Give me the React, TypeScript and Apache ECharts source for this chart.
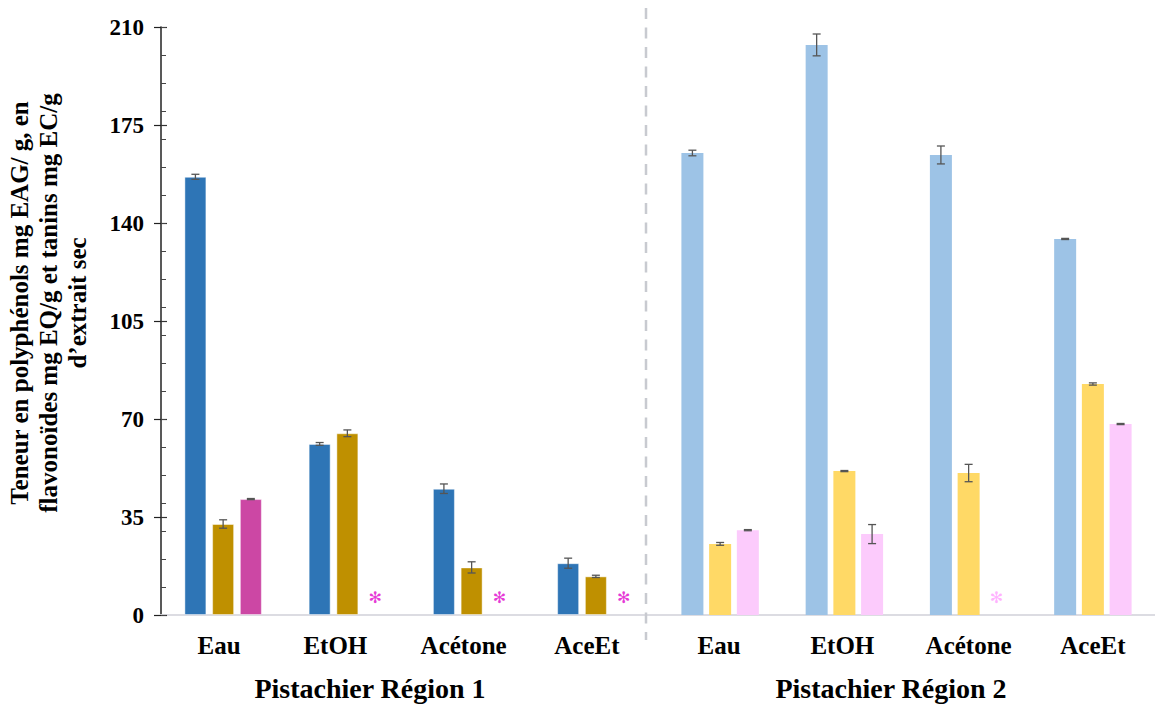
import React, { useEffect, useRef } from "react";
import * as echarts from "echarts";

const categories = ["Eau", "EtOH", "Acétone", "AceEt", "Eau", "EtOH", "Acétone", "AceEt"];
const regionLabels = ["Pistachier Région 1", "Pistachier Région 2"];
const seriesNames = ["Polyphénols", "Flavonoïdes", "Tanins"];

const polyphenols = [156.5, 61.1, 45.1, 18.5, 165.0, 203.6, 164.3, 134.3];
const polyphenolsErr = [0.9, 0.5, 1.7, 1.8, 1.0, 3.9, 3.2, 0.2];
const flavonoids = [32.5, 64.9, 17.0, 13.8, 25.4, 51.4, 50.7, 82.5];
const flavonoidsErr = [1.5, 1.2, 2.0, 0.4, 0.5, 0.2, 3.1, 0.4];
const tannins = [41.4, null, null, null, 30.3, 28.9, null, 68.2];
const tanninsErr = [0.2, 0, 0, 0, 0.2, 3.4, 0, 0.2];

const Y_MIN = 0;
const Y_MAX = 210;
const Y_INTERVAL = 35;
const Y_MINOR = 10;

const SERIES_VALUES = [polyphenols, flavonoids, tannins];
const SERIES_ERRS = [polyphenolsErr, flavonoidsErr, tanninsErr];
// [region 1 colour, region 2 colour]
const SERIES_COLORS = [
  ["#2E75B6", "#9DC3E6"],
  ["#BF9000", "#FFD966"],
  ["#CC47A4", "#FCCBFC"],
];
const ASTERISK_COLORS = ["#E63AD6", "#FFB3FF"];

// layout: leftward nudge of each category label (px)
const LABEL_NUDGE = [4, 12, 8, 9, 1, 2, 0, 0];

const BAR_W = 22;
const BAR_GAP = 0.26;
const SPACING = BAR_W * (1 + BAR_GAP);
const SERIF = "'Liberation Serif', 'Times New Roman', serif";

export default function App() {
  const ref = useRef<HTMLDivElement>(null);

  useEffect(() => {
    if (!ref.current) return;
    const chart = echarts.init(ref.current, undefined, { renderer: "svg" });

    const barSeries = SERIES_VALUES.map((vals, s) => ({
      name: seriesNames[s],
      type: "bar",
      xAxisIndex: 0,
      yAxisIndex: 0,
      barWidth: BAR_W,
      barGap: BAR_GAP * 100 + "%",
      z: 2,
      data: vals.map((v, i) => {
        const region = i < 4 ? 0 : 1;
        if (v === null) {
          return {
            value: 0,
            itemStyle: { color: "transparent", borderWidth: 0 },
            label: {
              show: true,
              position: "top",
              distance: 10,
              formatter: "✻",
              fontSize: 16,
              fontFamily: "'DejaVu Sans', sans-serif",
              color: ASTERISK_COLORS[region],
            },
          };
        }
        return {
          value: v,
          itemStyle: {
            color: SERIES_COLORS[s][region],
            borderColor: region === 0 ? "rgba(255,255,255,0.45)" : "transparent",
            borderWidth: region === 0 ? 1 : 0,
          },
        };
      }),
    }));

    const errData: number[][] = [];
    SERIES_VALUES.forEach((vals, s) => {
      vals.forEach((v, i) => {
        if (v !== null) errData.push([i, v, SERIES_ERRS[s][i], s]);
      });
    });

    const errSeries = {
      type: "custom",
      xAxisIndex: 0,
      yAxisIndex: 0,
      z: 5,
      data: errData,
      renderItem: (params: any, api: any) => {
        const ci = api.value(0);
        const v = api.value(1);
        const e = api.value(2);
        const s = api.value(3);
        const top = api.coord([ci, v + e]);
        const bot = api.coord([ci, v - e]);
        const x = top[0] + (s - 1) * SPACING;
        const hw = 4;
        const st = { stroke: "#555", lineWidth: 1.3 };
        return {
          type: "group",
          children: [
            { type: "line", shape: { x1: x, y1: top[1], x2: x, y2: bot[1] }, style: st },
            { type: "line", shape: { x1: x - hw, y1: top[1], x2: x + hw, y2: top[1] }, style: st },
            { type: "line", shape: { x1: x - hw, y1: bot[1], x2: x + hw, y2: bot[1] }, style: st },
          ],
        };
      },
    };

    const hiddenAxisBase = {
      type: "value",
      min: Y_MIN,
      max: Y_MAX,
      position: "left",
      offset: 0,
      axisLine: { show: false },
      axisLabel: { show: false },
      splitLine: { show: false },
    };

    const categoryItems = categories.map((c, i) => ({
      value: c,
      textStyle: { padding: [0, LABEL_NUDGE[i] * 2, 0, 0] },
    }));

    const option: any = {
      animation: false,
      grid: { left: 161, right: -2, top: 27, bottom: 89, containLabel: false },
      xAxis: [
        {
          type: "category",
          data: categoryItems,
          axisLine: { show: true, lineStyle: { color: "#D0D0D0", width: 2 } },
          axisTick: { show: false },
          axisLabel: {
            margin: 18,
            fontSize: 25,
            fontWeight: "bold",
            fontFamily: SERIF,
            color: "#000",
          },
        },
        {
          type: "category",
          data: categories,
          position: "top",
          axisLine: { show: true, lineStyle: { color: "#DCDCE2", width: 2 } },
          axisTick: { show: false },
          axisLabel: { show: false },
        },
      ],
      yAxis: [
        {
          type: "value",
          min: Y_MIN,
          max: Y_MAX,
          interval: Y_INTERVAL,
          position: "left",
          axisLine: { show: true, lineStyle: { color: "#222", width: 1.5 } },
          axisTick: { show: true, length: 7, lineStyle: { color: "#222", width: 1.2 } },
          axisLabel: {
            margin: 17,
            fontSize: 23,
            fontWeight: "bold",
            fontFamily: SERIF,
            color: "#000",
          },
          splitLine: { show: false },
        },
        {
          ...hiddenAxisBase,
          interval: Y_INTERVAL,
          axisTick: { show: true, inside: true, length: 6, lineStyle: { color: "#333", width: 1.2 } },
        },
        {
          ...hiddenAxisBase,
          interval: Y_MINOR,
          axisTick: { show: true, inside: true, length: 5, lineStyle: { color: "#444", width: 1 } },
        },
      ],
      series: [...barSeries, errSeries],
      graphic: [
        {
          type: "line",
          shape: { x1: 646, y1: 8, x2: 646, y2: 640 },
          style: { stroke: "#C8CAD0", lineWidth: 2.5, lineDash: [11, 8.5] },
          z: 1,
        },
        {
          type: "text",
          x: 48,
          y: 303,
          rotation: Math.PI / 2,
          style: {
            text: "Teneur en polyphénols mg EAG/ g, en\nflavonoïdes mg EQ/g et tanins mg EC/g\nd’extrait sec",
            fontSize: 25,
            lineHeight: 29,
            fontWeight: "bold",
            fontFamily: SERIF,
            fill: "#000",
            align: "center",
            verticalAlign: "middle",
          },
        },
        {
          type: "text",
          x: 370,
          y: 688,
          style: {
            text: regionLabels[0],
            fontSize: 28,
            fontWeight: "bold",
            fontFamily: SERIF,
            fill: "#000",
            align: "center",
            verticalAlign: "middle",
          },
        },
        {
          type: "text",
          x: 891,
          y: 688,
          style: {
            text: regionLabels[1],
            fontSize: 28,
            fontWeight: "bold",
            fontFamily: SERIF,
            fill: "#000",
            align: "center",
            verticalAlign: "middle",
          },
        },
      ],
    };

    chart.setOption(option);
    return () => chart.dispose();
  }, []);

  return (
    <div
      ref={ref}
      style={{ position: "fixed", left: 0, top: 0, width: 1155, height: 704, background: "#fff" }}
    />
  );
}
